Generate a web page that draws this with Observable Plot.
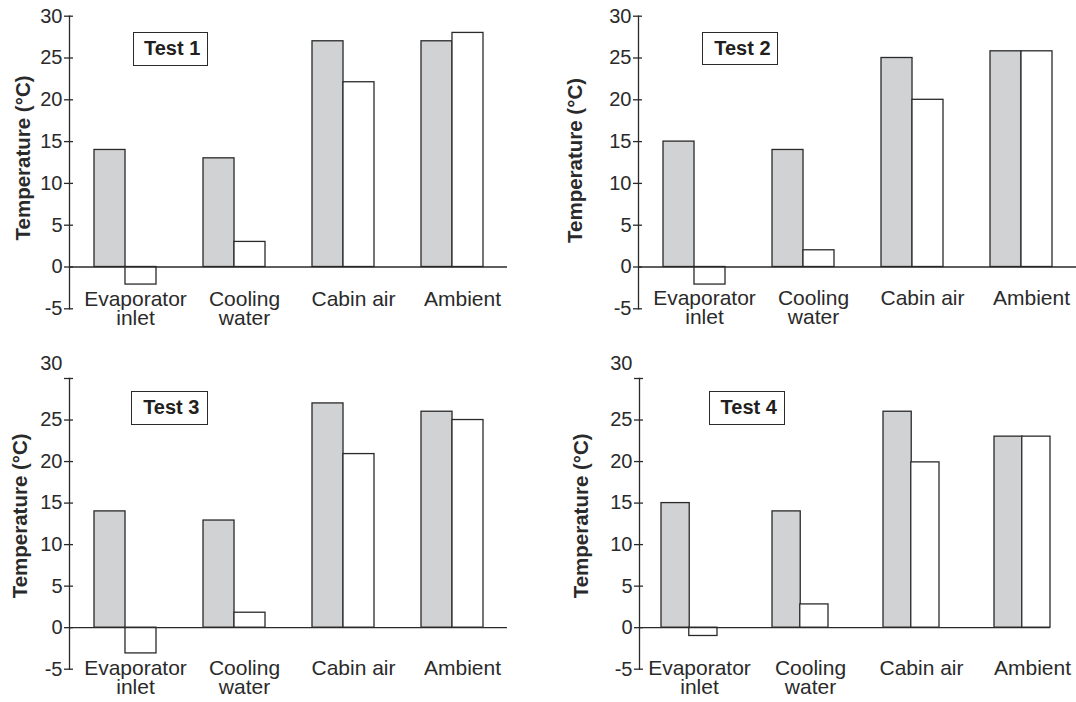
<!DOCTYPE html>
<html><head><meta charset="utf-8">
<script src="https://cdn.jsdelivr.net/npm/d3@7"></script>
<script src="https://cdn.jsdelivr.net/npm/@observablehq/plot@0.6"></script>
<style>
html,body{margin:0;padding:0;background:#fff;overflow:hidden;}
#chart{position:relative;width:1076px;height:702px;font-family:"Liberation Sans",Arial,sans-serif;color:#231f20;}
.panel{position:absolute;}
.panel svg{display:block;}
.tag{position:absolute;box-sizing:border-box;border:1.5px solid #2b2b2b;background:#fff;font:bold 20px "Liberation Sans",Arial,sans-serif;display:flex;align-items:center;justify-content:center;padding-left:4px;color:#231f20;}
</style></head><body><div id="chart"></div>
<script>
// ---- data ----
const categories = ["Evaporator inlet", "Cooling water", "Cabin air", "Ambient"];
const categoryLabels = ["Evaporator\ninlet", "Cooling\nwater", "Cabin air", "Ambient"];
const tests = ["Test 1", "Test 2", "Test 3", "Test 4"];
const grayValues = [
  [14, 13, 27, 27],
  [15, 14, 25, 25.8],
  [14, 12.9, 27, 26],
  [15, 14, 26, 23]
];
const whiteValues = [
  [-2.1, 3, 22.1, 28],
  [-2.1, 2, 20, 25.8],
  [-3.1, 1.8, 20.9, 25],
  [-1, 2.8, 19.9, 23]
];
const yTicks = [-5, 0, 5, 10, 15, 20, 25, 30];
const yLabel = "Temperature (°C)";

// ---- layout (styles only) ----
const layout = [
  {left:0, top:0, width:540, height:351, mL:69, mR:33, mT:15.7, mB:42.7, pi:0.434, po:0.217, align:0.5, labelDy:-16, ylabelX:15, ylabelDy:-4.5, raise30:0, tag:{x:132.7, y:32, w:75, h:33.7}},
  {left:560, top:0, width:516, height:351, mL:78, mR:0, mT:15.7, mB:42.7, pi:0.434, po:0.217, align:0.5, labelDy:-17.6, ylabelX:6.7, ylabelDy:-2, raise30:0, tag:{x:702.4, y:31.7, w:76, h:33.6}},
  {left:0, top:351, width:540, height:351, mL:69, mR:33, mT:27, mB:33.3, pi:0.434, po:0.217, align:0.5, labelDy:-7.7, ylabelX:12, ylabelDy:-8, raise30:14.7, tag:{x:131, y:391.3, w:76.6, h:33.4}},
  {left:560, top:351, width:516, height:351, mL:79, mR:26, mT:27, mB:33.3, pi:0.5, po:0.1, align:0.96, labelDy:-7.7, ylabelX:13, ylabelDy:-8, raise30:14.7, tag:{x:708.5, y:391.3, w:76.5, h:33.4}}
];

const ink = "#2a2a2a";
const chart = document.getElementById("chart");

tests.forEach((test, i) => {
  const L = layout[i];
  const rows = categories.map((c, j) => ({category: c, gray: grayValues[i][j], white: whiteValues[i][j]}));
  const frameW = L.width - L.mL - L.mR;
  const n = categories.length;
  const step = frameW / (n - L.pi + 2 * L.po);
  const half = step * (1 - L.pi) / 2;
  const textTicks = L.raise30 ? yTicks.filter(t => t !== 30) : yTicks;
  const marks = [
    Plot.barY(rows, {x: "category", y: "gray", fill: "#d1d2d4", stroke: ink, strokeWidth: 1.3, insetLeft: 0, insetRight: half}),
    Plot.barY(rows, {x: "category", y: "white", fill: "#ffffff", stroke: ink, strokeWidth: 1.3, insetLeft: half, insetRight: 0}),
    Plot.ruleY([0], {stroke: ink, strokeWidth: 1.3}),
    Plot.frame({anchor: "left", stroke: ink, strokeWidth: 1.3}),
    Plot.axisY({ticks: yTicks, tickSize: 5, tickFormat: () => "", strokeWidth: 1.3, label: null}),
    Plot.tickY(yTicks, {y: d => d, insetRight: frameW - 4, stroke: ink, strokeWidth: 1.3}),
    Plot.axisY({ticks: textTicks, tickSize: 0, tickPadding: 7, tickFormat: d => String(d), fontSize: 20, label: null}),
    Plot.axisX({tickSize: 0, tickPadding: 0, dy: L.labelDy, dx: 10, fontSize: 21, lineHeight: 0.9,
      tickFormat: d => categoryLabels[categories.indexOf(d)], label: null}),
    Plot.text([yLabel], {text: d => d, frameAnchor: "left", rotate: -90, dx: -(L.mL - L.ylabelX), dy: L.ylabelDy,
      lineAnchor: "top", textAnchor: "middle", fontSize: 20.5, fontWeight: "bold", fill: "currentColor"})
  ];
  if (L.raise30) {
    marks.push(Plot.axisY({ticks: [30], tickSize: 0, tickPadding: 7, dy: -L.raise30, tickFormat: d => String(d), fontSize: 20, label: null}));
  }
  const svg = Plot.plot({
    width: L.width, height: L.height,
    marginLeft: L.mL, marginRight: L.mR, marginTop: L.mT, marginBottom: L.mB,
    style: {fontFamily: '"Liberation Sans", Arial, sans-serif', color: ink, background: "transparent", overflow: "visible"},
    x: {domain: categories, paddingInner: L.pi, paddingOuter: L.po, align: L.align},
    y: {domain: [-5, 30], nice: false},
    marks
  });
  const div = document.createElement("div");
  div.className = "panel";
  div.style.left = L.left + "px";
  div.style.top = L.top + "px";
  div.style.width = L.width + "px";
  div.style.height = L.height + "px";
  div.appendChild(svg);
  chart.appendChild(div);

  const tag = document.createElement("div");
  tag.className = "tag";
  tag.style.left = L.tag.x + "px";
  tag.style.top = L.tag.y + "px";
  tag.style.width = L.tag.w + "px";
  tag.style.height = L.tag.h + "px";
  tag.textContent = test;
  chart.appendChild(tag);
});
</script>
</body></html>
